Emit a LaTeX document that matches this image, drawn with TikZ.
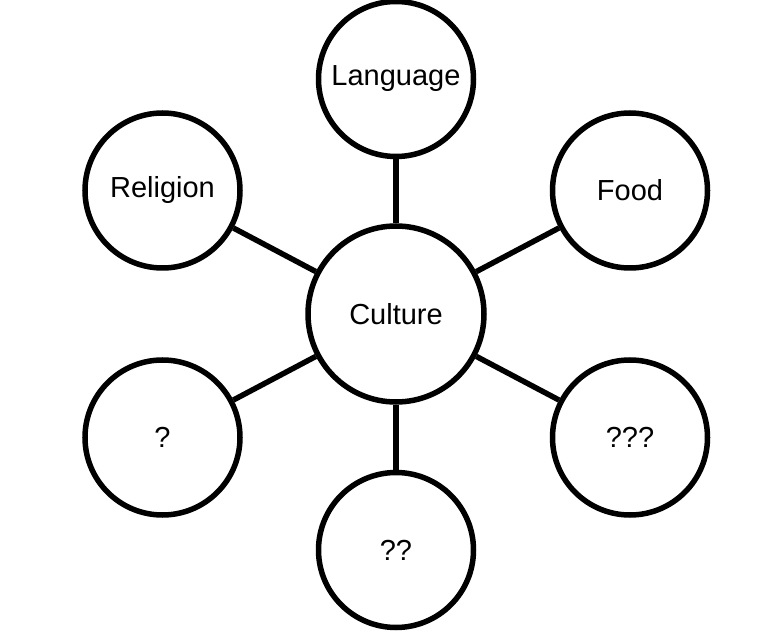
\documentclass[tikz,border=0pt]{standalone}
\usepackage{fontspec}
\setmainfont{Liberation Sans}
\begin{document}
\begin{tikzpicture}[x=1pt,y=-1pt,
  bubble/.style={circle,draw=black,line width=5.5pt,fill=white,inner sep=0pt,minimum size=155pt,font=\fontsize{29}{34}\selectfont},
  hub/.style={bubble,minimum size=176pt},
  link/.style={line width=5.5pt,draw=black}]
\useasboundingbox (0,0) rectangle (769,644);
\node[hub] (cult) at (396,314) {Culture};
\node[bubble] (lang) at (396,79) {Language};
\node[bubble] (rel) at (162.5,190.5) {Religion};
\node[bubble] (food) at (630,190.5) {Food};
\node[bubble] (q1) at (162.5,437.5) {?};
\node[bubble] (q3) at (630,437.5) {???};
\node[bubble] (q2) at (396,550) {??};
\draw[link] (cult) -- (lang);
\draw[link] (cult) -- (rel);
\draw[link] (cult) -- (food);
\draw[link] (cult) -- (q1);
\draw[link] (cult) -- (q3);
\draw[link] (cult) -- (q2);
\end{tikzpicture}
\end{document}
